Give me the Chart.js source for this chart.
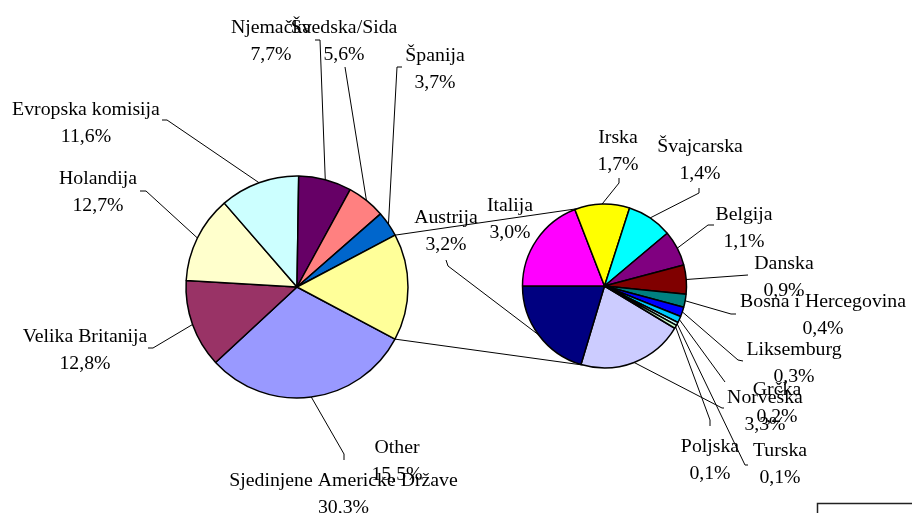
<!DOCTYPE html>
<html>
<head>
<meta charset="utf-8">
<script src="https://cdn.jsdelivr.net/npm/chart.js@4.4.0/dist/chart.umd.min.js"></script>
<style>
  html, body { margin: 0; padding: 0; background: #fff; }
  #wrap { position: relative; width: 912px; height: 513px; overflow: hidden; }
  #wrap canvas { position: absolute; left: 0; top: 0; }
</style>
</head>
<body>
<div id="wrap">
  <canvas id="mainPie" width="912" height="513"></canvas>
  <canvas id="otherPie" width="912" height="513"></canvas>
</div>
<script>
// --- Data ---
const mainLabels = ['Sjedinjene Americke Države', 'Velika Britanija', 'Holandija', 'Evropska komisija',
                    'Njemačka', 'Švedska/Sida', 'Španija', 'Other'];
const mainValues = [30.3, 12.8, 12.7, 11.6, 7.7, 5.6, 3.7, 15.5];

const otherLabels = ['Norveška', 'Austrija', 'Italija', 'Irska', 'Švajcarska', 'Belgija', 'Danska',
                     'Bosna i Hercegovina', 'Liksemburg', 'Grčka', 'Turska', 'Poljska'];
const otherValues = [3.3, 3.2, 3.0, 1.7, 1.4, 1.1, 0.9, 0.4, 0.3, 0.2, 0.1, 0.1];

// --- Styles (old Excel palette) ---
const mainColors = ['#9999FF', '#993366', '#FFFFCC', '#CCFFFF', '#660066', '#FF8080', '#0066CC', '#FFFF99'];
const otherColors = ['#CCCCFF', '#000080', '#FF00FF', '#FFFF00', '#00FFFF', '#800080', '#800000',
                     '#008080', '#0000FF', '#00CCFF', '#CCFFFF', '#CCFFCC'];

const FONT = '19.8px "Liberation Serif", "Times New Roman", serif';
const LINE_GAP = 26.5;

// label text centre x, first baseline y, leader path (elbow -> end) in page px
const mainLabelPos = [
  [343.5, 486, [[344, 454], [344, 460]]],
  [85, 342, [[153, 348], [148, 348]]],
  [98, 184, [[146, 191], [140, 191]]],
  [86, 115, [[167, 120], [162, 120]]],
  [271, 33, [[320, 40], [315, 40]]],
  [344, 33, [[345, 67]]],
  [435, 61, [[397, 67], [402, 67]]],
  [397, 453, null]
];
const otherLabelPos = [
  [765, 403, [[722, 408], [724, 408]]],
  [446, 223, [[448, 266], [446, 260]]],
  [510, 211, null],
  [618, 143, [[619, 183], [619, 178]]],
  [700, 152, [[699, 193], [699, 188]]],
  [744, 220, [[708, 225], [714, 225]]],
  [784, 269, [[748, 275]]],
  [823, 307, [[731, 314], [736, 314]]],
  [794, 355, [[738, 360], [743, 361]]],
  [777, 395, [[725, 382]]],
  [780, 456, [[745, 465], [748, 465]]],
  [710, 452, [[710, 420], [710, 426]]]
];

// secondary pie points where the connector lines land (deg from 12 o'clock)
const CONNECT_TOP = -19.5;
const CONNECT_BOTTOM = 195.5;

function pct(v) {
  return v.toFixed(1).replace('.', ',') + '%';
}

function makeLabelPlugin(layout) {
  return {
    id: 'pieLabels',
    afterDraw(chart) {
      const ctx = chart.ctx;
      const arcs = chart.getDatasetMeta(0).data;
      const labels = chart.data.labels;
      const values = chart.data.datasets[0].data;
      ctx.save();
      ctx.strokeStyle = '#000';
      ctx.lineWidth = 1;
      arcs.forEach((arc, i) => {
        const path = layout[i][2];
        if (!path) return;
        const mid = (arc.startAngle + arc.endAngle) / 2;
        ctx.beginPath();
        ctx.moveTo(arc.x + Math.cos(mid) * arc.outerRadius, arc.y + Math.sin(mid) * arc.outerRadius);
        path.forEach(p => ctx.lineTo(p[0], p[1]));
        ctx.stroke();
      });
      ctx.font = FONT;
      ctx.fillStyle = '#000';
      ctx.textAlign = 'center';
      ctx.textBaseline = 'alphabetic';
      arcs.forEach((arc, i) => {
        const [x, y] = layout[i];
        ctx.fillText(labels[i], x, y);
        ctx.fillText(pct(values[i]), x, y + LINE_GAP);
      });
      ctx.restore();
    }
  };
}

function pieOptions(pad, radius, rotation) {
  return {
    responsive: false,
    animation: false,
    events: [],
    radius: radius,
    rotation: rotation,
    layout: { padding: pad },
    plugins: { legend: { display: false }, tooltip: { enabled: false } }
  };
}

// --- Main pie ---
const mainChart = new Chart(document.getElementById('mainPie'), {
  type: 'pie',
  data: {
    labels: mainLabels,
    datasets: [{ data: mainValues, backgroundColor: mainColors, borderColor: '#000', borderWidth: 1.5 }]
  },
  options: pieOptions({ left: 186, right: 504, top: 176, bottom: 115 }, 111, 118),
  plugins: [makeLabelPlugin(mainLabelPos)]
});

// connector lines between "Other" and the secondary pie + the cut-off box corner
const connectorPlugin = {
  id: 'connectors',
  afterDraw(chart) {
    const ctx = chart.ctx;
    const other = mainChart.getDatasetMeta(0).data[mainLabels.indexOf('Other')];
    const sec = chart.getDatasetMeta(0).data[0];
    const toRad = d => (d - 90) * Math.PI / 180;
    const pt = (a, ang, r) => [a.x + Math.cos(ang) * r, a.y + Math.sin(ang) * r];
    const a1 = pt(other, other.startAngle, other.outerRadius);
    const a2 = pt(other, other.endAngle, other.outerRadius);
    const b1 = pt(sec, toRad(CONNECT_TOP), sec.outerRadius);
    const b2 = pt(sec, toRad(CONNECT_BOTTOM), sec.outerRadius);
    ctx.save();
    ctx.strokeStyle = '#000';
    ctx.lineWidth = 1;
    ctx.beginPath();
    ctx.moveTo(a1[0], a1[1]); ctx.lineTo(b1[0], b1[1]);
    ctx.moveTo(a2[0], a2[1]); ctx.lineTo(b2[0], b2[1]);
    ctx.stroke();
    ctx.strokeStyle = '#222';
    ctx.lineWidth = 1.5;
    ctx.strokeRect(817.5, 503.5, 120, 40);
    ctx.restore();
  }
};

// --- Secondary pie ---
const otherChart = new Chart(document.getElementById('otherPie'), {
  type: 'pie',
  data: {
    labels: otherLabels,
    datasets: [{ data: otherValues, backgroundColor: otherColors, borderColor: '#000', borderWidth: 1.5 }]
  },
  options: pieOptions({ left: 522.5, right: 225.5, top: 204, bottom: 145 }, 82, 121),
  plugins: [makeLabelPlugin(otherLabelPos), connectorPlugin]
});
</script>
</body>
</html>
